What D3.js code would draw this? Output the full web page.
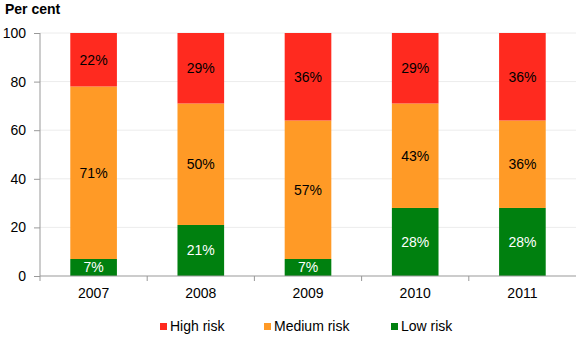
<!DOCTYPE html>
<html>
<head>
<meta charset="utf-8">
<script src="https://cdn.jsdelivr.net/npm/d3@7"></script>
<style>
  body { margin: 0; background: #fff; }
  text { font-family: "Liberation Sans", Arial, sans-serif; }
</style>
</head>
<body>
<div id="chart"></div>
<script>
// Data
var years = ["2007", "2008", "2009", "2010", "2011"];
var lowRisk = [7, 21, 7, 28, 28];
var mediumRisk = [71, 50, 57, 43, 36];
var highRisk = [22, 29, 36, 29, 36];
var yTicks = [0, 20, 40, 60, 80, 100];

var seriesNames = ["Low risk", "Medium risk", "High risk"];
var seriesColors = ["#00800f", "#ff9a26", "#ff2a1f"];
var labelColors = ["#ffffff", "#000000", "#000000"];
var legendOrder = [2, 1, 0];

var svgWidth = 581;
var svgHeight = 341;
var margin = { top: 33, right: 5, bottom: 65, left: 40 };
var width = svgWidth - margin.left - margin.right;
var height = svgHeight - margin.top - margin.bottom;

var svg = d3.select("#chart")
  .append("svg")
  .attr("width", svgWidth)
  .attr("height", svgHeight);

var chartGroup = svg.append("g")
  .attr("transform", `translate(${margin.left}, ${margin.top})`);

// build rows for stacking
var rows = years.map(function(y, i) {
  return { year: y, "Low risk": lowRisk[i], "Medium risk": mediumRisk[i], "High risk": highRisk[i] };
});
var stacked = d3.stack().keys(seriesNames)(rows);

// Scales
var xScale = d3.scaleBand()
  .domain(years)
  .range([0, width])
  .padding(0);

var yScale = d3.scaleLinear()
  .domain([0, 100])
  .range([height, 0]);

var barWidth = xScale.bandwidth() * 0.435;

// gridlines
chartGroup.append("g")
  .selectAll("line")
  .data(yTicks.filter(d => d > 0))
  .enter()
  .append("line")
  .attr("x1", 0)
  .attr("x2", width)
  .attr("y1", d => yScale(d))
  .attr("y2", d => yScale(d))
  .attr("stroke", "#ececec")
  .attr("stroke-width", 1);

// Bars
var layers = chartGroup.selectAll(".layer")
  .data(stacked)
  .enter()
  .append("g")
  .attr("fill", (d, i) => seriesColors[i]);

layers.selectAll("rect")
  .data(d => d)
  .enter()
  .append("rect")
  .attr("x", d => xScale(d.data.year) + (xScale.bandwidth() - barWidth) / 2)
  .attr("y", d => yScale(d[1]))
  .attr("width", barWidth)
  .attr("height", d => yScale(d[0]) - yScale(d[1]));

// Bar labels
stacked.forEach(function(layer, li) {
  chartGroup.append("g")
    .selectAll("text")
    .data(layer)
    .enter()
    .append("text")
    .attr("x", d => xScale(d.data.year) + xScale.bandwidth() / 2)
    .attr("y", d => (yScale(d[0]) + yScale(d[1])) / 2)
    .attr("dy", "0.35em")
    .attr("text-anchor", "middle")
    .attr("font-size", "14px")
    .attr("fill", labelColors[li])
    .text(d => (d[1] - d[0]) + "%");
});

// Axes
var bottomAxis = d3.axisBottom(xScale).tickSize(0).tickPadding(12);
var leftAxis = d3.axisLeft(yScale).tickValues(yTicks).tickSize(6).tickPadding(8);

var xAxisG = chartGroup.append("g")
  .attr("transform", `translate(0, ${height})`)
  .call(bottomAxis);
xAxisG.select(".domain").attr("stroke", "#999").attr("d", `M0,0H${width}`);
xAxisG.selectAll("text").attr("font-size", "14px").attr("fill", "#000").attr("font-family", "Liberation Sans, Arial, sans-serif");

// x ticks at band boundaries
chartGroup.append("g")
  .selectAll("line")
  .data(years.slice(1))
  .enter()
  .append("line")
  .attr("x1", d => xScale(d))
  .attr("x2", d => xScale(d))
  .attr("y1", height)
  .attr("y2", height + 5)
  .attr("stroke", "#999");

var yAxisG = chartGroup.append("g")
  .call(leftAxis);
yAxisG.select(".domain").attr("stroke", "#999").attr("d", `M0,${height + 5}V0`);
yAxisG.selectAll(".tick line").attr("stroke", "#999");
yAxisG.selectAll("text").attr("font-size", "14px").attr("fill", "#000").attr("font-family", "Liberation Sans, Arial, sans-serif");

// Title
svg.append("text")
  .attr("x", 5)
  .attr("y", 14)
  .attr("font-size", "14px")
  .attr("font-weight", "bold")
  .text("Per cent");

// Legend
var legendX = [160, 264, 391];
var legend = svg.append("g")
  .selectAll("g")
  .data(legendOrder)
  .enter()
  .append("g")
  .attr("transform", (d, i) => `translate(${legendX[i]}, 326)`);

legend.append("rect")
  .attr("x", 0)
  .attr("y", -3)
  .attr("width", 7)
  .attr("height", 7)
  .attr("fill", d => seriesColors[d]);

legend.append("text")
  .attr("x", 10)
  .attr("y", 0)
  .attr("dy", "0.35em")
  .attr("font-size", "14px")
  .text(d => seriesNames[d]);
</script>
</body>
</html>
